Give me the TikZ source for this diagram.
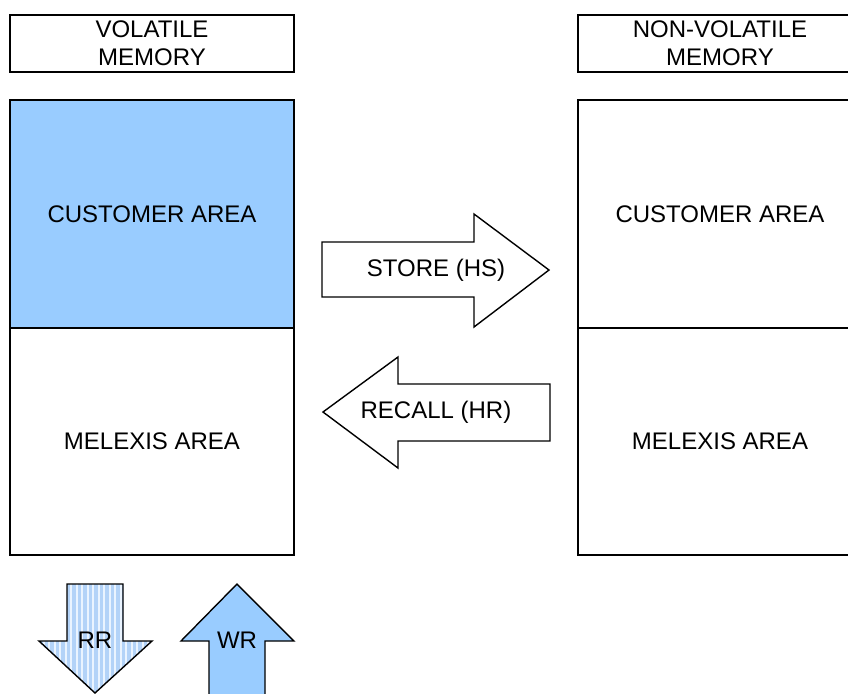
\documentclass[tikz,border=0pt]{standalone}
\usepackage{fontspec}
\setmainfont{Liberation Sans}
\usetikzlibrary{positioning}
\definecolor{areablue}{HTML}{99CCFF}
\definecolor{stripeblue}{HTML}{B3D3F8}
\definecolor{stripelight}{HTML}{EAF4FF}
\tikzset{
  headbox/.style={draw, align=center, minimum width=142pt, minimum height=28.5pt, inner sep=0pt},
  areabox/.style={draw, minimum width=142pt, minimum height=114pt, inner sep=0pt},
  bigarrow/.style={draw, fill=white, line join=miter}
}
\begin{document}
\begin{tikzpicture}[x=0.5pt, y=-0.5pt, font=\fontsize{12}{14}\selectfont, line width=0.7pt]
  \useasboundingbox (0,0) rectangle (848,693);
  \clip (0,0) rectangle (848,693);
  % headers
  \node[headbox] (volhead) at (152,43.5) {VOLATILE\\MEMORY};
  \node[headbox] (nvhead) at (720,43.5) {NON-VOLATILE\\MEMORY};
  % memory areas
  \node[areabox, fill=areablue] (volcust) at (152,214) {CUSTOMER AREA};
  \node[areabox, minimum height=113.5pt] (volmlx) at (152,441.5) {MELEXIS AREA};
  \node[areabox] (nvcust) at (720,214) {CUSTOMER AREA};
  \node[areabox, minimum height=113.5pt] (nvmlx) at (720,441.5) {MELEXIS AREA};
  % store / recall
  \draw[bigarrow] (322,242) -- (474,242) -- (474,214) -- (549,270) -- (474,327) -- (474,297) -- (322,297) -- cycle;
  \node (store) at (436,270) {STORE (HS)};
  \draw[bigarrow] (550,384) -- (398,384) -- (398,357) -- (323,412) -- (398,468) -- (398,441) -- (550,441) -- cycle;
  \node (recall) at (436,412) {RECALL (HR)};
  % read / write
  \def\rrpath{(67,584) -- (123,584) -- (123,641) -- (152,641) -- (95,693) -- (39,641) -- (67,641) -- cycle}
  \fill[stripelight] \rrpath;
  \begin{scope}
    \clip \rrpath;
    \foreach \x in {39,44.5,...,154} {
      \fill[stripeblue] (\x,584) rectangle ++(3.5,110);
    }
  \end{scope}
  \draw[line join=miter] \rrpath;
  \node (rr) at (95,640) {RR};
  \draw[bigarrow, fill=areablue] (209,700) -- (209,641) -- (181,641) -- (237,584) -- (294,641) -- (265,641) -- (265,700);
  \node (wr) at (237,640) {WR};
\end{tikzpicture}
\end{document}
